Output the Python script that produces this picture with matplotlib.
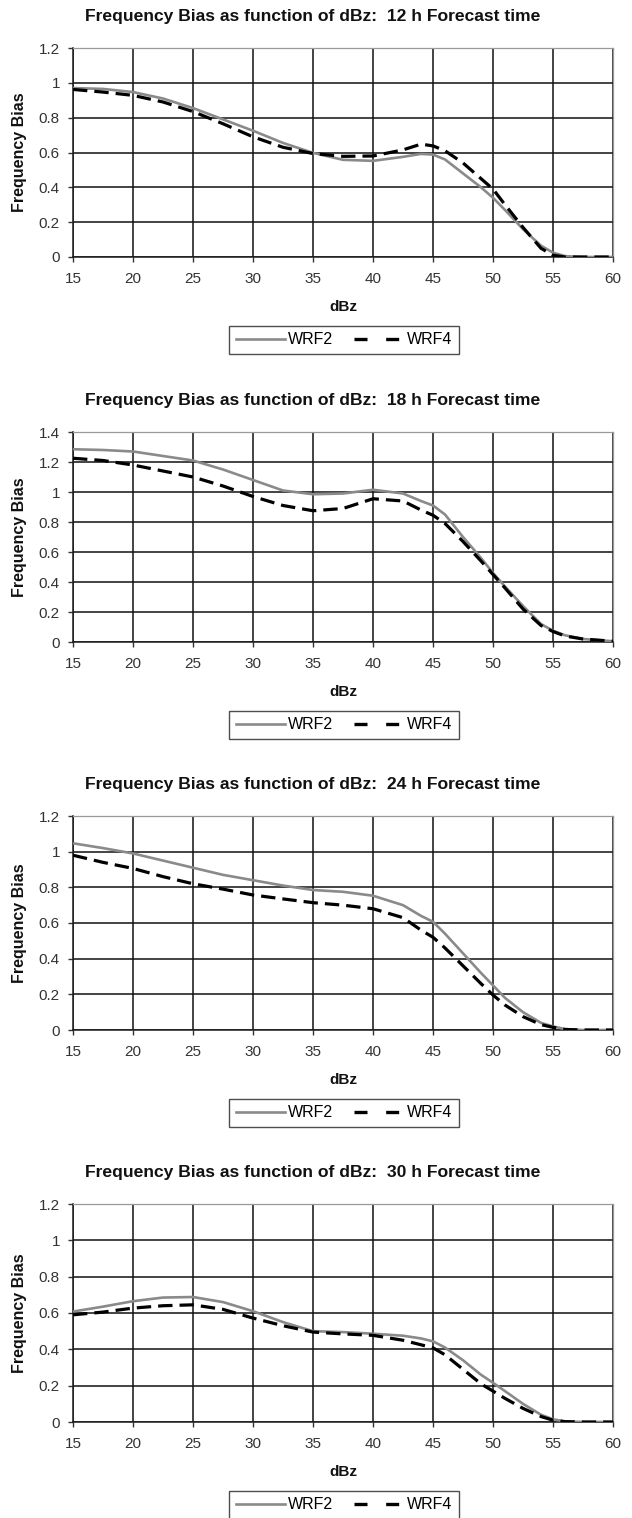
import matplotlib
matplotlib.use("Agg")
import matplotlib.pyplot as plt
from matplotlib.lines import Line2D

plt.rcParams['font.family'] = ['Liberation Sans', 'DejaVu Sans']

dbz = [15, 17.5, 20, 22.5, 25, 27.5, 30, 32.5, 35, 37.5, 40, 42.5, 44, 45, 46, 47.5, 49, 50, 51, 52.5, 54, 55, 56, 57.5, 60]

titles = ["Frequency Bias as function of dBz:  12 h Forecast time",
          "Frequency Bias as function of dBz:  18 h Forecast time",
          "Frequency Bias as function of dBz:  24 h Forecast time",
          "Frequency Bias as function of dBz:  30 h Forecast time"]

wrf2_12h = [0.97, 0.965, 0.947, 0.91, 0.855, 0.79, 0.725, 0.655, 0.598, 0.558, 0.552, 0.575, 0.592, 0.588, 0.56, 0.48, 0.40, 0.34, 0.27, 0.16, 0.065, 0.025, 0.005, 0.0, 0.0]
wrf4_12h = [0.962, 0.947, 0.928, 0.89, 0.835, 0.765, 0.69, 0.63, 0.594, 0.578, 0.58, 0.615, 0.648, 0.638, 0.61, 0.54, 0.45, 0.39, 0.30, 0.17, 0.05, 0.01, 0.0, 0.0, 0.0]

wrf2_18h = [1.285, 1.28, 1.27, 1.24, 1.21, 1.15, 1.08, 1.01, 0.985, 0.99, 1.015, 0.99, 0.94, 0.91, 0.85, 0.70, 0.56, 0.46, 0.37, 0.24, 0.12, 0.075, 0.045, 0.02, 0.005]
wrf4_18h = [1.225, 1.21, 1.18, 1.14, 1.10, 1.04, 0.97, 0.91, 0.875, 0.89, 0.955, 0.94, 0.88, 0.845, 0.79, 0.67, 0.54, 0.45, 0.36, 0.22, 0.11, 0.07, 0.04, 0.02, 0.005]

wrf2_24h = [1.047, 1.02, 0.99, 0.95, 0.91, 0.87, 0.84, 0.81, 0.785, 0.775, 0.753, 0.70, 0.64, 0.607, 0.54, 0.43, 0.32, 0.25, 0.18, 0.10, 0.04, 0.02, 0.005, 0.0, 0.0]
wrf4_24h = [0.98, 0.94, 0.906, 0.86, 0.82, 0.79, 0.757, 0.735, 0.714, 0.70, 0.68, 0.63, 0.56, 0.52, 0.46, 0.36, 0.26, 0.196, 0.14, 0.075, 0.03, 0.015, 0.003, 0.0, 0.0]

wrf2_30h = [0.608, 0.635, 0.665, 0.685, 0.688, 0.66, 0.61, 0.55, 0.50, 0.495, 0.486, 0.475, 0.46, 0.444, 0.41, 0.34, 0.26, 0.216, 0.17, 0.10, 0.04, 0.015, 0.003, 0.0, 0.0]
wrf4_30h = [0.59, 0.605, 0.627, 0.64, 0.645, 0.62, 0.572, 0.53, 0.495, 0.485, 0.477, 0.45, 0.425, 0.408, 0.37, 0.29, 0.21, 0.17, 0.13, 0.075, 0.03, 0.01, 0.002, 0.0, 0.0]

wrf2_all = [wrf2_12h, wrf2_18h, wrf2_24h, wrf2_30h]
wrf4_all = [wrf4_12h, wrf4_18h, wrf4_24h, wrf4_30h]
ymax_all = [1.2, 1.4, 1.2, 1.2]
xticks = [15, 20, 25, 30, 35, 40, 45, 50, 55, 60]
series_names = ['WRF2', 'WRF4']

W, H = 632, 1518
fig = plt.figure(figsize=(W / 100, H / 100), dpi=100)

GRAY = '#8a8a8a'
rows = [(48, 257), (432, 642), (816, 1030), (1204, 1422)]
left_px, right_px = 73, 613

for i in range(4):
    top, bot = rows[i]
    ax = fig.add_axes([left_px / W, 1 - bot / H, (right_px - left_px) / W, (bot - top) / H])
    ax.plot(dbz, wrf2_all[i], color=GRAY, lw=1.9, zorder=3, solid_capstyle='butt')
    ax.plot(dbz, wrf4_all[i], color='black', lw=2.3, ls=(0, (4.5, 2.2)), zorder=4)
    ymax = ymax_all[i]
    ax.set_xlim(15, 60)
    ax.set_ylim(0, ymax)
    ax.set_xticks(xticks)
    nt = int(round(ymax / 0.2))
    yt = [round(0.2 * k, 1) for k in range(nt + 1)]
    ax.set_yticks(yt)
    ax.set_yticklabels([f'{v:g}' for v in yt])
    ax.grid(True, color='#111111', lw=1.1, zorder=1)
    ax.set_axisbelow(True)
    for s in ['top', 'right']:
        ax.spines[s].set_color('#9a9a9a')
        ax.spines[s].set_linewidth(0.9)
    for s in ['left', 'bottom']:
        ax.spines[s].set_color('#1a1a1a')
        ax.spines[s].set_linewidth(1.1)
    ax.tick_params(axis='both', direction='out', length=3.6, width=1, labelsize=11, colors='#333333')
    ax.tick_params(axis='x', pad=7)
    ax.tick_params(axis='y', pad=5.8)

    fig.text(313 / W, 1 - (top - 27) / H, titles[i], ha='center', va='baseline',
             fontsize=12.6, fontweight='bold', color='#111111')
    fig.text(343 / W, 1 - (bot + 50) / H, 'dBz', ha='center', va='center',
             fontsize=11, fontweight='bold', color='#111111')
    fig.text(20 / W, 1 - ((top + bot) / 2) / H, 'Frequency Bias', ha='center', va='center',
             rotation=90, fontsize=11.5, fontweight='bold', color='#111111')

    handles = [Line2D([], [], color=GRAY, lw=1.9),
               Line2D([], [], color='black', lw=2.4, dashes=(3.9, 5.6))]
    leg = ax.legend(handles, series_names, loc='upper center',
                    bbox_to_anchor=(344 / W, 1 - (bot + 69) / H), bbox_transform=fig.transFigure,
                    ncol=2, frameon=True, fancybox=False, edgecolor='#222222', fontsize=11.5,
                    handlelength=3.1, handletextpad=0.2, columnspacing=1.3,
                    borderpad=0.4, borderaxespad=0)
    leg.get_frame().set_linewidth(1.0)

fig.savefig('out.png', dpi=100)
